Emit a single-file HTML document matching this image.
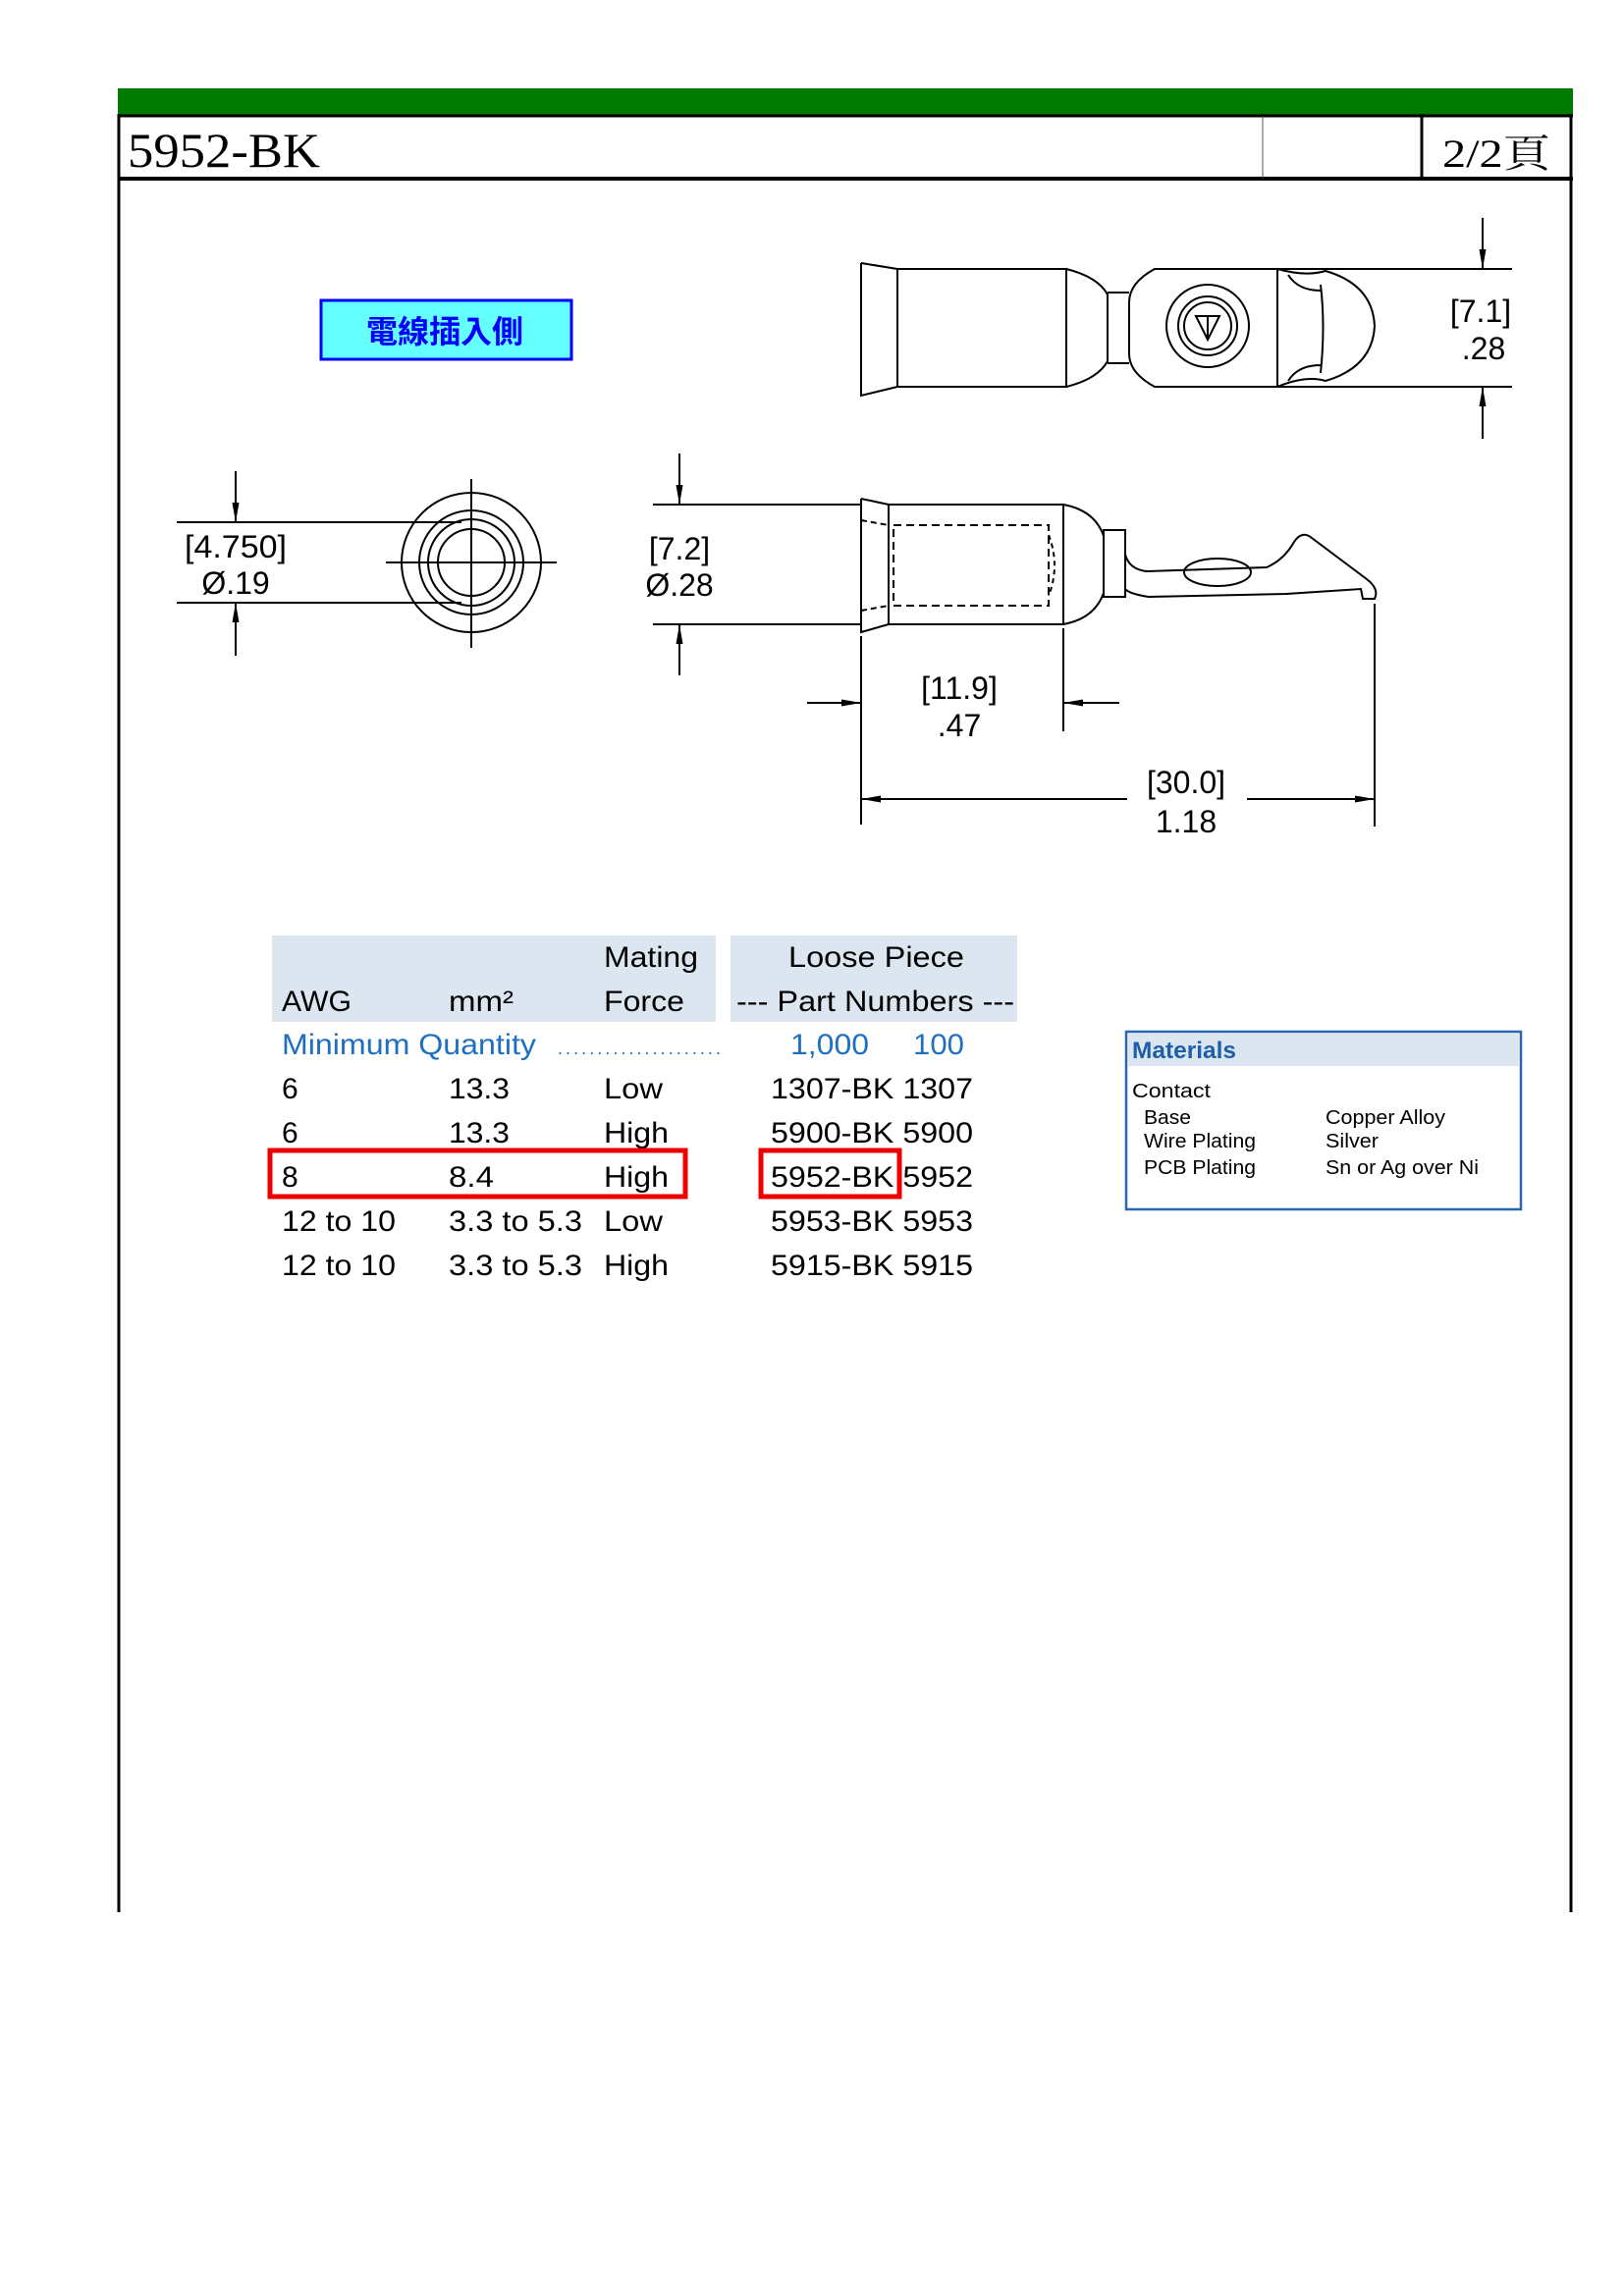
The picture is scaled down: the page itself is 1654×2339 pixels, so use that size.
<!DOCTYPE html>
<html><head><meta charset="utf-8"><style>
html,body{margin:0;padding:0;background:#fff;}
svg{display:block;}
</style></head><body>
<svg width="1654" height="2339" viewBox="0 0 1654 2339" xmlns="http://www.w3.org/2000/svg" font-family="Liberation Sans, sans-serif">
<defs>
<marker id="ar" viewBox="0 0 20 10" refX="20" refY="5" markerWidth="22" markerHeight="10" markerUnits="userSpaceOnUse" orient="auto"><path d="M0,1.5 L20,5 L0,8.5 z" fill="#000"/></marker>
</defs>
<!-- frame -->
<rect x="120" y="90" width="1482" height="28" fill="#007a00"/>
<line x1="120" y1="118" x2="1602" y2="118" stroke="#000" stroke-width="3"/>
<line x1="120" y1="182" x2="1602" y2="182" stroke="#000" stroke-width="4"/>
<line x1="121" y1="116" x2="121" y2="1948" stroke="#000" stroke-width="3"/>
<line x1="1600" y1="116" x2="1600" y2="1948" stroke="#000" stroke-width="3"/>
<line x1="1286" y1="118" x2="1286" y2="182" stroke="#555" stroke-width="1"/>
<line x1="1448" y1="118" x2="1448" y2="182" stroke="#000" stroke-width="3"/>
<text x="130" y="170" font-family="Liberation Serif, serif" font-size="50" textLength="196" lengthAdjust="spacingAndGlyphs">5952-BK</text>
<text x="1469" y="170" font-family="Liberation Serif, 'Noto Serif CJK SC', serif" font-size="40" textLength="110" lengthAdjust="spacingAndGlyphs">2/2頁</text>

<!-- cyan label -->
<rect x="327" y="306" width="255" height="60" fill="#6ff" stroke="#00f" stroke-width="3"/>
<text x="453" y="349" text-anchor="middle" font-family="Liberation Sans, 'Noto Sans CJK TC', sans-serif" font-weight="bold" font-size="32" fill="#00f">電線插入側</text>

<g fill="none" stroke="#000" stroke-width="2">
<!-- top view -->
<path d="M877,268 L914,274 M877,268 L877,403 L914,394"/>
<rect x="914" y="274" width="172" height="120"/>
<path d="M1086,274 Q1118,282 1128,300 L1128,368 Q1118,386 1086,394"/>
<path d="M1128,298 L1150,298 M1128,370 L1150,370"/>
<path d="M1176,274 L1301,274 L1301,394 L1176,394 Q1150,380 1150,360 L1150,308 Q1150,288 1176,274 z"/>
<circle cx="1230" cy="332" r="42"/>
<circle cx="1230" cy="332" r="30"/>
<circle cx="1230" cy="332" r="24"/>
<path d="M1218,322 L1242,322 L1230,346 z M1230,322 L1230,346"/>
<path d="M1301,274 L1540,274 M1301,394 L1540,394"/>
<path d="M1301,274 Q1330,282 1350,276 Q1398,290 1400,332 Q1398,374 1350,388 Q1330,382 1301,394"/>
<path d="M1312,280 Q1322,296 1345,296 M1312,388 Q1322,372 1345,372 M1345,290 Q1350,332 1345,380"/>
<line x1="1510" y1="222" x2="1510" y2="274" marker-end="url(#ar)"/>
<line x1="1510" y1="447" x2="1510" y2="394" marker-end="url(#ar)"/>

<!-- circle view -->
<circle cx="480" cy="573" r="71"/>
<circle cx="480" cy="573" r="53"/>
<circle cx="480" cy="573" r="44"/>
<circle cx="480" cy="573" r="34"/>
<path d="M393,573 L567,573 M480,488 L480,660"/>
<path d="M180,532 L470,532 M180,614 L470,614"/>
<line x1="240" y1="480" x2="240" y2="532" marker-end="url(#ar)"/>
<line x1="240" y1="668" x2="240" y2="614" marker-end="url(#ar)"/>

<!-- side view -->
<path d="M877,508 L905,514 M877,508 L877,644 L905,636"/>
<path d="M877,530 L905,535 M877,622 L905,617" stroke-dasharray="6,4"/>
<rect x="905" y="514" width="178" height="122"/>
<rect x="910" y="535" width="158" height="82" stroke-dasharray="8,5"/>
<path d="M1068,545 Q1080,576 1068,607" stroke-dasharray="5,4"/>
<path d="M1083,514 Q1115,520 1124,546 L1124,604 Q1115,630 1083,636"/>
<rect x="1124" y="540" width="22" height="68"/>
<path d="M1146,565 Q1150,580 1168,582 L1290,578 Q1308,570 1318,552 Q1326,540 1336,548 L1392,590 Q1405,600 1400,610 L1388,610 L1386,600 L1310,605 L1170,608 Q1150,605 1146,600"/>
<ellipse cx="1240" cy="583" rx="34" ry="14"/>
<path d="M665,514 L877,514 M665,636 L877,636"/>
<line x1="692" y1="462" x2="692" y2="514" marker-end="url(#ar)"/>
<line x1="692" y1="688" x2="692" y2="636" marker-end="url(#ar)"/>
<!-- 11.9 -->
<path d="M877,648 L877,840 M1083,640 L1083,745 M1400,615 L1400,842"/>
<line x1="822" y1="716" x2="877" y2="716" marker-end="url(#ar)"/>
<line x1="1140" y1="716" x2="1083" y2="716" marker-end="url(#ar)"/>
<!-- 30.0 -->
<line x1="1148" y1="814" x2="877" y2="814" marker-end="url(#ar)"/>
<line x1="1270" y1="814" x2="1400" y2="814" marker-end="url(#ar)"/>
</g>

<g font-size="32" fill="#000" text-anchor="middle" stroke="none">
<text x="240" y="568" textLength="104" lengthAdjust="spacingAndGlyphs">[4.750]</text>
<text x="240" y="605">Ø.19</text>
<text x="692" y="570">[7.2]</text>
<text x="692" y="607">Ø.28</text>
<text x="1508" y="328">[7.1]</text>
<text x="1511" y="366">.28</text>
<text x="977" y="712">[11.9]</text>
<text x="977" y="750">.47</text>
<text x="1208" y="808">[30.0]</text>
<text x="1208" y="848">1.18</text>
</g>

<!-- table -->
<rect x="277" y="953" width="452" height="88" fill="#dce6f0"/>
<rect x="744" y="953" width="292" height="88" fill="#dce6f0"/>
<g font-size="30" fill="#000">
<text x="615" y="985" textLength="96" lengthAdjust="spacingAndGlyphs">Mating</text>
<text x="803" y="985" textLength="179" lengthAdjust="spacingAndGlyphs">Loose Piece</text>
<text x="287" y="1030" textLength="71" lengthAdjust="spacingAndGlyphs">AWG</text>
<text x="457" y="1030" textLength="66" lengthAdjust="spacingAndGlyphs">mm²</text>
<text x="615" y="1030" textLength="82" lengthAdjust="spacingAndGlyphs">Force</text>
<text x="750" y="1030" textLength="283" lengthAdjust="spacingAndGlyphs">--- Part Numbers ---</text>
<g fill="#1f6fc0">
<text x="287" y="1074" textLength="259" lengthAdjust="spacingAndGlyphs">Minimum Quantity</text>
<text x="568" y="1074" font-size="18" textLength="166" lengthAdjust="spacing">.....................</text>
<text x="805" y="1074" textLength="80" lengthAdjust="spacingAndGlyphs">1,000</text>
<text x="930" y="1074" textLength="52" lengthAdjust="spacingAndGlyphs">100</text>
</g>
<text x="287" y="1119">6</text><text x="457" y="1119" textLength="62" lengthAdjust="spacingAndGlyphs">13.3</text><text x="615" y="1119" textLength="60" lengthAdjust="spacingAndGlyphs">Low</text><text x="785" y="1119" textLength="206" lengthAdjust="spacingAndGlyphs">1307-BK 1307</text>
<text x="287" y="1164">6</text><text x="457" y="1164" textLength="62" lengthAdjust="spacingAndGlyphs">13.3</text><text x="615" y="1164" textLength="66" lengthAdjust="spacingAndGlyphs">High</text><text x="785" y="1164" textLength="206" lengthAdjust="spacingAndGlyphs">5900-BK 5900</text>
<text x="287" y="1209">8</text><text x="457" y="1209" textLength="46" lengthAdjust="spacingAndGlyphs">8.4</text><text x="615" y="1209" textLength="66" lengthAdjust="spacingAndGlyphs">High</text><text x="785" y="1209" textLength="206" lengthAdjust="spacingAndGlyphs">5952-BK 5952</text>
<text x="287" y="1254" textLength="116" lengthAdjust="spacingAndGlyphs">12 to 10</text><text x="457" y="1254" textLength="136" lengthAdjust="spacingAndGlyphs">3.3 to 5.3</text><text x="615" y="1254" textLength="60" lengthAdjust="spacingAndGlyphs">Low</text><text x="785" y="1254" textLength="206" lengthAdjust="spacingAndGlyphs">5953-BK 5953</text>
<text x="287" y="1299" textLength="116" lengthAdjust="spacingAndGlyphs">12 to 10</text><text x="457" y="1299" textLength="136" lengthAdjust="spacingAndGlyphs">3.3 to 5.3</text><text x="615" y="1299" textLength="66" lengthAdjust="spacingAndGlyphs">High</text><text x="785" y="1299" textLength="206" lengthAdjust="spacingAndGlyphs">5915-BK 5915</text>
</g>
<rect x="275" y="1172" width="423" height="47" fill="none" stroke="#e00" stroke-width="5"/>
<rect x="775" y="1172" width="141" height="47" fill="none" stroke="#e00" stroke-width="5"/>

<!-- materials -->
<rect x="1147" y="1051" width="402" height="181" fill="#fff" stroke="#2a66b0" stroke-width="2.5"/>
<rect x="1149" y="1053" width="398" height="33" fill="#dce6f0"/>
<text x="1153" y="1078" font-size="24" font-weight="bold" fill="#1f5fa8" textLength="106" lengthAdjust="spacingAndGlyphs">Materials</text>
<g font-size="20" fill="#000">
<text x="1153" y="1118" textLength="80" lengthAdjust="spacingAndGlyphs">Contact</text>
<text x="1165" y="1145" textLength="48" lengthAdjust="spacingAndGlyphs">Base</text>
<text x="1165" y="1169" textLength="114" lengthAdjust="spacingAndGlyphs">Wire Plating</text>
<text x="1165" y="1196" textLength="114" lengthAdjust="spacingAndGlyphs">PCB Plating</text>
<text x="1350" y="1145" textLength="122" lengthAdjust="spacingAndGlyphs">Copper Alloy</text>
<text x="1350" y="1169" textLength="54" lengthAdjust="spacingAndGlyphs">Silver</text>
<text x="1350" y="1196" textLength="156" lengthAdjust="spacingAndGlyphs">Sn or Ag over Ni</text>
</g>
</svg>
</body></html>
